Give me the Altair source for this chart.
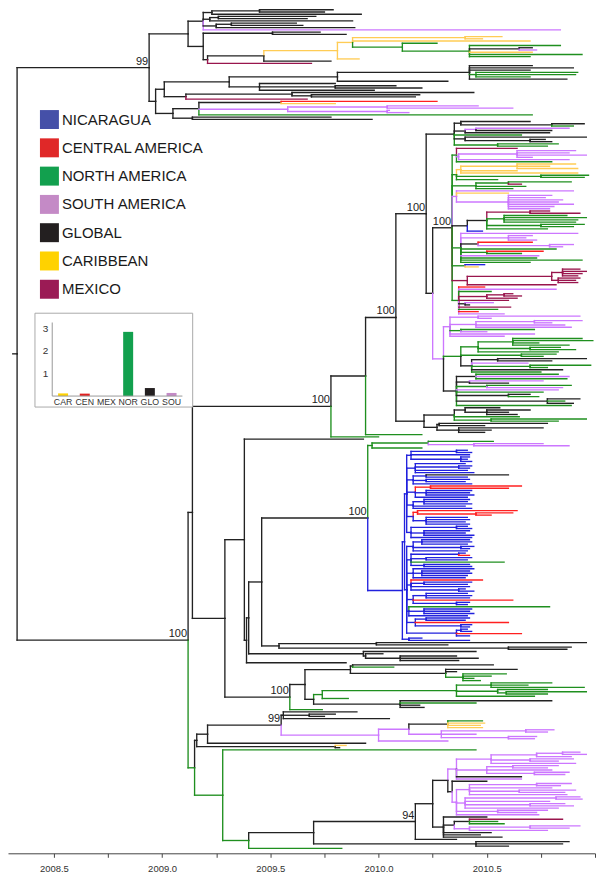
import altair as alt
import pandas as pd

# ------------------------------------------------------------------
# DATA
# Tree written as compact newick: tip = "<years after 2008><region>",
# internal node = "(children)<years after 2008><region>[:support]".
# region codes: b Nicaragua, r Central America, g North America,
# v South America, k Global, y Caribbean, m Mexico
# ------------------------------------------------------------------
BASE_YEAR = 2008
ROOT_START = 0.31

A1A = "(((1.79k,1.75k)1.45k,1.92k)1.23k,((1.71k,1.67k)1.26k,1.88k)1.22k,((1.62k,1.65k)1.32k,1.89k)1.25k,2.84v)1.19k"
A1B = "((1.73k,1.85k)1.51k,(((((2.57y,2.48y)2.40y,2.70y,(2.27g,(2.84g,(2.71k,2.73v)2.65k,2.71y,2.94g,2.70g)2.42g)2.11g)1.88y,1.91y)1.81y,1.78k)1.47k,1.69m)1.21k)1.19k"
A2A = "((((2.71k,2.90k,2.70k,(2.92g,2.91g,2.70g)2.45g,2.87k)2.42k,2.32k)1.81k,(1.80k,(2.08k,2.20k)1.80k,1.98k)1.45k)1.31k,((2.44k,(2.19k,2.17k)1.69k)1.60k,1.67m)1.11k)1.01k"
A2B = "(((2.27r,1.80y)1.55k,((2.46v,2.62v)2.04v,(2.05v,2.14v)2.04v)1.58v,2.71g)1.17k,(1.78k,1.97k)1.14k)1.05k"

T1 = "((2.70k,(2.95k,2.90g)2.80k)2.38k,((2.88v,2.80k)2.45v,2.79k)2.40k,2.66g,(2.96k,(2.77k,2.80k)2.70k)2.40k,(2.83g,2.78g)2.55g)2.35k"
D_PARTS = [
    "(2.64m,((2.91v,2.88v,2.96v,2.71v)2.64v,2.88v)2.37v,2.80g)2.36g",
    "(((2.91y,2.79y,2.92y)2.64y,2.64y,2.92y)2.38y,(2.97g,2.95g)2.75g,2.55g)2.36g",
    "((2.89g,2.66m)2.60g,2.68g,2.62g)2.45g",
    "(2.90v,2.60y,(2.80v,2.77v,2.85v,2.83v,2.90v,2.81v,2.79v)2.60v)2.36v",
    "(((2.79m,2.93m)2.70m,(2.87g,2.96g,2.92g,2.91g)2.58g,(2.95g,2.90g)2.75g,2.78g)2.50k,2.48b)2.41k",
    "(2.92v,(2.71v,2.68v,2.73v)2.60v,(2.71r,(2.90v,2.85v)2.79v)2.46k,2.82g,(2.76r,2.66g)2.50g,2.74v,2.73g,2.94g,2.70g)2.38g",
    "(2.49b,2.46y)2.40g",
    "(((2.93m,2.96m,2.94m,2.92m)2.85m,(2.93m,2.91m,2.92m)2.83m)2.80m,2.82m)2.41m",
    "(2.49r,2.82v,2.52g,((2.62m,2.66m)2.58m,2.64m)2.50m,2.60m,(2.53v,2.42k)2.40k,2.61m,2.55g,2.46r,2.58v)2.37g",
]
V_PARTS = [
    "((2.93v,2.52v)2.46v,((2.94v,2.80v)2.72v,2.86v,2.89v)2.45v,(2.72g,2.50v)2.38g,2.72v,2.58v)2.33v",
    "(((2.94g,2.99g,2.74g,2.88g)2.62g,(2.84g,2.91g)2.70g,2.83g)2.46g,(2.82g,2.76g)2.66g,((2.96k,2.80k)2.55k,2.69v,(2.98g,2.78g)2.70g,2.85k,2.75g)2.43k)2.38g",
    "((2.83g,2.88v,2.87g)2.45k,(2.76v,2.60k)2.42k,(2.89g,2.85v)2.50g,2.83v,2.76g,(2.70k,2.74g)2.60k,(2.93k,2.86g,2.90k)2.78k,2.89g)2.36k",
]
C_LOW = "(((2.56k,(2.70k,2.60k,2.64k)2.50k)2.40k,2.65g,(2.96g,2.83g)2.52g)2.35k,((2.78k,2.49k)2.28k,(2.76k,2.52k,2.49k)2.37k)2.27k)2.21k"

G_TOP = "((2.53g,(2.76v,2.88v)2.44v)2.23g,2.20g)1.97g"
BLUE_UPPER = [
    "((2.41b,2.43b)2.36b,2.42b,(2.42b,2.41b,2.43b)2.38b)2.15b",
    "(2.40b,(2.43b,2.42b)2.37b,2.41b,2.44b)2.17b",
    "((2.60k,2.41b)2.22b,(2.42b,2.40b)2.22b,2.43b)2.16b",
    "((2.66r,2.60r)2.24r,(2.43b,2.42b,2.44b)2.22b,2.41b)2.17b",
    "((2.42b,2.41b,2.43b)2.21b,2.40b,2.43b)2.16b",
    "((2.64r,(2.62r,2.52r)2.45r)2.18r,(2.41b,2.42b,2.40b,2.42b)2.22b)2.16b",
    "((2.41b,2.43b)2.36b,(2.42b,2.40b,2.44b)2.21b,2.43b)2.15b",
]
BLUE_LOWER = [
    "((2.42b,2.43b,2.41b)2.20b,(2.44b,2.42b)2.38b,2.41b)2.16b",
    "((2.40b,2.42r)2.37b,(2.43b,2.41b)2.22b,2.58g,(2.42b,2.43b)2.21b)2.15b",
    "(2.44b,(2.42b,2.43b,2.41b)2.20b,2.40b)2.16b",
    "(2.48r,(2.43b,2.41b)2.21b,2.42b,(2.40b,2.44b)2.37b)2.15b",
    "((2.41b,2.43b,2.42b)2.22b,2.62r,(2.42b,2.41b)2.36b)2.16b",
    "(2.79g,(2.43b,2.42b,2.44b)2.21b,2.41b)2.14b",
    "((2.42b,2.40b)2.22b,2.60r,(2.43b,2.42b)2.38b)2.17b",
    "((2.41b,2.43b)2.38b,2.66r,2.42b)2.36b",
]
BLUE_BASE = "(2.20b,2.42b)2.14b"
N280 = "((2.96k,2.32k)1.99k,(2.89k,2.87k)2.60k)1.54k"
N365 = "(2.45k,(2.02k,(2.36k,2.46k,2.37k)2.10k)1.94k)1.93k"

N352 = "((2.53k,2.07g)1.88k,(2.64k,2.36k,(2.59g,2.52g,2.44g,2.47g)2.39g)2.31k)1.87k"
N322 = "(((2.80g,2.69g,2.95g)2.52g,(2.78g,(2.96g,2.78g)2.59g)2.55g,2.72g)2.36g,1.86g)1.74g"
N399 = "(2.80k,2.45g,2.19k,2.21k)2.10k"

N99 = "((1.90k,(1.80k,1.75k)1.68k,2.05k)1.56k,(((2.48g,2.49y,2.47y,2.48y)2.32k,((2.81v,2.78v)2.68v,2.45v,(2.73v,2.72v)2.60v)2.29v)2.14v,2.32v)2.00v)1.55k:99"
VIOLET_A = "((((2.93v,2.96v)2.85v,2.89v)2.73v,(2.90v,2.83v)2.70v,2.91v)2.52v,((2.83v,2.78v)2.62v,2.80v,(2.88v,2.86v)2.72v)2.50v,2.66k,2.66v)2.36v"
VIOLET_B = "(2.50k,(((2.89v,2.84v)2.73v,2.80v,(2.91v,2.86v)2.65v,2.87v)2.42v,((2.93v,2.94v)2.82v,2.79v,(2.86v,2.90v)2.70v,2.83v)2.40v,(2.78v,2.73v)2.55v,2.74v)2.36v)2.34k"
N_LOW = "(2.50k,((2.85m,2.55g,2.58g)2.42k,((2.93v,2.88v)2.70v,2.78v)2.42v)2.35k,2.52k,2.47k,2.57k)2.30k"

REGION_CODES = ["b", "r", "g", "v", "k", "y", "m"]
REGION_NAMES = ["NICARAGUA", "CENTRAL AMERICA", "NORTH AMERICA", "SOUTH AMERICA",
                "GLOBAL", "CARIBBEAN", "MEXICO"]
BRANCH_COLORS = ["#2121dd", "#ff2020", "#1f8f1f", "#cc77ff", "#222222", "#ffcc55", "#99154d"]
LEGEND_COLORS = ["#4550a8", "#e02828", "#12a04e", "#c48ac6", "#231f20", "#ffd200", "#9b1b55"]

INSET_CATS = ["CAR", "CEN", "MEX", "NOR", "GLO", "SOU"]
INSET_VALUES = [0.12, 0.11, 0.0, 2.88, 0.36, 0.14]
INSET_COLORS = ["#ffd200", "#e02020", "#9b1b55", "#12a04e", "#231f20", "#c48ac6"]
INSET_YTICKS = [1, 2, 3]

AXIS_TICKS = [2008.5, 2008.75, 2009.0, 2009.25, 2009.5, 2009.75,
              2010.0, 2010.25, 2010.5, 2010.75, 2011.0]

# ------------------------------------------------------------------
# assemble the tree
# ------------------------------------------------------------------
A1 = "(" + A1A + "," + A1B + ")1.12k"
A2 = "(" + A2A + "," + A2B + ")0.97k"
CLADE_A = "(" + A1 + "," + A2 + ")0.94k:99"

D = "(" + ",".join(D_PARTS) + ")2.34k:100"
V = "(" + ",".join(V_PARTS) + ")2.30v"
C_UP = "(" + T1 + ",(" + D + "," + V + ")2.25k)2.22k:100"
C = "(" + C_UP + "," + C_LOW + ")2.08k:100"
X = "(" + C + ",2.20g)1.94k"
B1A = "(" + X + ",2.00g)1.78k:100"

BLUE = ("((" + "(" + ",".join(BLUE_UPPER) + ")2.13b," + "(" + ",".join(BLUE_LOWER) + ")2.13b)2.12b,"
        + BLUE_BASE + ")2.11b")
NIC = "(" + G_TOP + "," + BLUE + ")1.95k:100"
N263 = "(" + NIC + "," + N280 + ")1.46k"
N251 = "(" + N263 + "," + N365 + ")1.40k"
N248 = "(" + N251 + ",1.85k)1.39k"
N245 = "(1.93k," + N248 + ")1.38k"
N313 = "(" + N322 + "," + N399 + ")1.70k"
N306 = "(" + N352 + "," + N313 + ")1.66k"
N100 = "(" + N306 + ",1.74g)1.59k:100"
B1B = "(" + N245 + "," + N100 + ")1.29k"
B1 = "(" + B1A + "," + B1B + ")1.14k"

N208 = "(" + N99 + ",1.94k)1.21k"
N198 = "(" + N208 + ",(1.85y,1.82k)1.80k)1.16k"
N447 = "(" + VIOLET_A + "," + VIOLET_B + ")2.32k"
N432 = "(" + N447 + "," + N_LOW + ")2.25k"
N94 = "(" + N432 + ",2.36k)2.17k:94"
N315 = "(" + N94 + ",(2.88k,2.85k,2.60k)2.45k)1.70k"
N249 = "(" + N315 + ",1.83g)1.40g"
N222 = "(2.45g," + N249 + ")1.28g"
B2 = "(" + N198 + "," + N222 + ")1.15g"
CLADE_B = "(" + B1 + "," + B2 + ")1.12k:100"
TREE = "(" + CLADE_A + "," + CLADE_B + ")0.33k"


def parse(s):
    pos = 0

    def node():
        nonlocal pos
        kids = []
        if s[pos] == "(":
            pos += 1
            kids.append(node())
            while pos < len(s) and s[pos] == ",":
                pos += 1
                kids.append(node())
            pos += 1  # ')'
        start = pos
        while pos < len(s) and s[pos] not in ",()":
            pos += 1
        lab = s[start:pos]
        sup = None
        if ":" in lab:
            lab, sup = lab.split(":")
        return {"t": float(lab[:-1]) + BASE_YEAR, "c": lab[-1], "sup": sup, "kids": kids}

    return node()


root = parse(TREE)
counter = [0]


def lay(n):
    if not n["kids"]:
        n["y"] = counter[0]
        counter[0] += 1
    else:
        for k in n["kids"]:
            lay(k)
        n["y"] = (n["kids"][0]["y"] + n["kids"][-1]["y"]) / 2.0


lay(root)
n_tips = counter[0]

segs, labels = [], []


def draw(n, parent_t):
    segs.append({"x": parent_t, "x2": n["t"], "y": n["y"], "y2": n["y"], "c": n["c"]})
    if n["sup"]:
        labels.append({"x": n["t"], "y": n["y"], "lab": n["sup"]})
    for k in n["kids"]:
        segs.append({"x": n["t"], "x2": n["t"], "y": n["y"], "y2": k["y"], "c": k["c"]})
    for k in n["kids"]:
        draw(k, n["t"])


draw(root, ROOT_START + BASE_YEAR)
seg_df = pd.DataFrame(segs)
lab_df = pd.DataFrame(labels)

# ------------------------------------------------------------------
# CHART
# ------------------------------------------------------------------
W, H = 588, 845
TREE_SPAN = 840  # pixel span from first to last tip
ymax = (n_tips - 1) * H / TREE_SPAN

xscale = alt.Scale(domain=[2008.288, 2011.0], nice=False, zero=False)
yscale = alt.Scale(domain=[0, ymax], reverse=True, nice=False, zero=False)

x_axis = alt.Axis(values=AXIS_TICKS, title=None, grid=False,
                  labelExpr="(datum.value % 0.5 == 0 && datum.value < 2011) ? format(datum.value, '.1f') : ''",
                  tickSize=4, tickColor="#444", domainColor="#444", domainWidth=1,
                  labelFont="Liberation Sans", labelFontSize=9.5, labelColor="#333",
                  labelPadding=6, labelFlush=False, labelOverlap=False)

branches = alt.Chart(seg_df).mark_rule(strokeWidth=1.35, strokeCap="square").encode(
    x=alt.X("x:Q", scale=xscale, axis=x_axis),
    x2="x2:Q",
    y=alt.Y("y:Q", scale=yscale, axis=None),
    y2="y2:Q",
    color=alt.Color("c:N", scale=alt.Scale(domain=REGION_CODES, range=BRANCH_COLORS), legend=None),
)
support = alt.Chart(lab_df).mark_text(align="right", baseline="bottom", dx=-1, dy=-1,
                                      font="Liberation Sans", fontSize=11).encode(
    x=alt.X("x:Q", scale=xscale, axis=x_axis),
    y=alt.Y("y:Q", scale=yscale, axis=None),
    text="lab:N",
    color=alt.value("#222222"),
)
tree = alt.layer(branches, support)

# legend (drawn as marks)
leg_df = pd.DataFrame({"name": REGION_NAMES, "i": list(range(len(REGION_NAMES)))})
leg_y = alt.Y("i:Q", scale=alt.Scale(domain=[0, 6], range=[110, 280]), axis=None)
leg_sq = alt.Chart(leg_df).mark_square(size=361, opacity=1).encode(
    x=alt.value(41.5), y=leg_y,
    color=alt.Color("name:N", scale=alt.Scale(domain=REGION_NAMES, range=LEGEND_COLORS), legend=None),
)
leg_tx = alt.Chart(leg_df).mark_text(align="left", baseline="middle", font="Liberation Sans",
                                     fontSize=15).encode(
    x=alt.value(54), y=leg_y, text="name:N", color=alt.value("#1a1a1a"))
legend = alt.layer(leg_sq, leg_tx)

# inset bar chart
ins_df = pd.DataFrame({"cat": INSET_CATS, "val": INSET_VALUES, "pos": list(range(len(INSET_CATS)))})
ins_xs = alt.Scale(domain=[-0.5, 5.5], range=[39.3, 179.7], nice=False, zero=False)
ins_ys = alt.Scale(domain=[0, 3.3], range=[387, 313.3], nice=False)
one = pd.DataFrame({"d": [0]})
frame = alt.Chart(one).mark_rect(fill="white", stroke="#aaaaaa", strokeWidth=1).encode(
    x=alt.value(27), x2=alt.value(185), y=alt.value(304), y2=alt.value(398))
bars = alt.Chart(ins_df).mark_bar(size=10).encode(
    x=alt.X("pos:Q", scale=ins_xs, axis=None),
    y=alt.Y("val:Q", scale=ins_ys, axis=None),
    color=alt.Color("cat:N", scale=alt.Scale(domain=INSET_CATS, range=INSET_COLORS), legend=None),
)
baseline = alt.Chart(one).mark_rule(color="#999999", strokeWidth=1).encode(
    x=alt.XDatum(-0.5, scale=ins_xs, axis=None), x2=alt.X2Datum(5.5),
    y=alt.YDatum(0, scale=ins_ys, axis=None))
yline = alt.Chart(one).mark_rule(color="#999999", strokeWidth=1).encode(
    x=alt.XDatum(-0.5, scale=ins_xs, axis=None),
    y=alt.YDatum(0, scale=ins_ys, axis=None), y2=alt.Y2Datum(3.3))
ytick_df = pd.DataFrame({"v": INSET_YTICKS})
ylabels = alt.Chart(ytick_df).mark_text(align="right", baseline="middle", dx=-4,
                                        font="Liberation Sans", fontSize=10).encode(
    x=alt.XDatum(-0.5, scale=ins_xs, axis=None),
    y=alt.Y("v:Q", scale=ins_ys, axis=None),
    text="v:Q", color=alt.value("#333333"))
catlabels = alt.Chart(ins_df).mark_text(baseline="middle", font="Liberation Sans",
                                        fontSize=8.8).encode(
    x=alt.X("pos:Q", scale=ins_xs, axis=None), y=alt.value(393), text="cat:N",
    color=alt.value("#333333"))
inset = alt.layer(frame, bars, baseline, yline, ylabels, catlabels)

chart = alt.layer(tree, legend, inset).resolve_scale(
    x="independent", y="independent", color="independent"
).properties(width=W, height=H, padding=0, background="white").configure_view(strokeWidth=0)

chart.save("out.html", embed_options={"renderer": "svg", "actions": False})
